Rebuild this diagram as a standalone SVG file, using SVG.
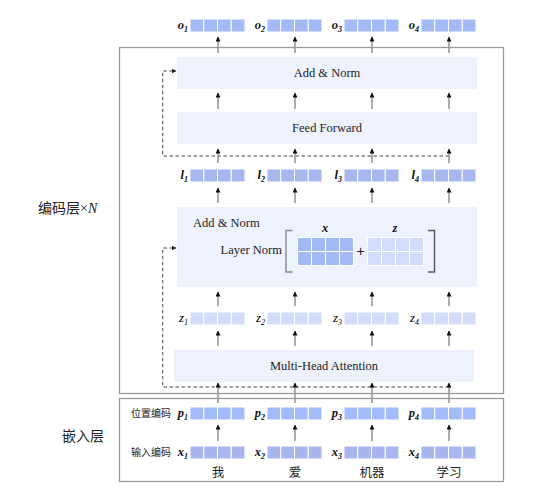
<svg xmlns="http://www.w3.org/2000/svg" width="556" height="496" viewBox="0 0 556 496">
<style>
.frame{fill:none;stroke:#9a9a9a;stroke-width:1.3}
.blk{fill:#eef2fd}
.t{font-family:"Liberation Serif",serif;font-size:12.5px;fill:#222}
.lab{font-family:"Liberation Serif",serif;font-size:12.5px;font-style:italic;fill:#111}
.zl{font-size:13px;fill:#000}
.b{font-weight:bold}
.sub{font-size:8px}
.cjk{font-family:"Noto Sans CJK SC",sans-serif;fill:#222}
.ar{stroke:#999;stroke-width:1.6;fill:none;marker-end:url(#ah)}
.dash{stroke:#444;stroke-width:1;stroke-dasharray:3.5,2.5;fill:none}
.c{stroke:#fff;stroke-width:1}
.o{fill:#a3baf7}.l{fill:#a7b6ee}.z{fill:#d3dcfa}.p{fill:#a3bbf8}.x{fill:#a8b5ee}
</style>
<defs>
<marker id="ah" markerUnits="userSpaceOnUse" markerWidth="6" markerHeight="6" refX="4.5" refY="2.5" orient="auto"><path d="M0,0 L5,2.5 L0,5 z" fill="#111"/></marker>
<marker id="dh" markerUnits="userSpaceOnUse" markerWidth="6" markerHeight="6" refX="4.5" refY="2.5" orient="auto"><path d="M0,0 L5,2.5 L0,5 z" fill="#222"/></marker>
<g id="vo" class="o"><rect class="c" x="0" y="0" width="13.75" height="13"/><rect class="c" x="13.75" y="0" width="13.75" height="13"/><rect class="c" x="27.5" y="0" width="13.75" height="13"/><rect class="c" x="41.25" y="0" width="13.75" height="13"/></g>
<g id="vl" class="l"><rect class="c" x="0" y="0" width="13.75" height="13"/><rect class="c" x="13.75" y="0" width="13.75" height="13"/><rect class="c" x="27.5" y="0" width="13.75" height="13"/><rect class="c" x="41.25" y="0" width="13.75" height="13"/></g>
<g id="vz" class="z"><rect class="c" x="0" y="0" width="13.75" height="13"/><rect class="c" x="13.75" y="0" width="13.75" height="13"/><rect class="c" x="27.5" y="0" width="13.75" height="13"/><rect class="c" x="41.25" y="0" width="13.75" height="13"/></g>
<g id="vp" class="p"><rect class="c" x="0" y="0" width="13.75" height="13"/><rect class="c" x="13.75" y="0" width="13.75" height="13"/><rect class="c" x="27.5" y="0" width="13.75" height="13"/><rect class="c" x="41.25" y="0" width="13.75" height="13"/></g>
<g id="vx" class="x"><rect class="c" x="0" y="0" width="13.75" height="13"/><rect class="c" x="13.75" y="0" width="13.75" height="13"/><rect class="c" x="27.5" y="0" width="13.75" height="13"/><rect class="c" x="41.25" y="0" width="13.75" height="13"/></g>
</defs>
<rect width="556" height="496" fill="#fff"/>

<g id="encoder-frame"><rect class="frame" x="119.5" y="47.5" width="384" height="346"/></g>
<g id="embed-frame"><rect class="frame" x="119.5" y="398.5" width="384" height="83"/></g>

<g id="label-encoder"><text class="cjk" x="38" y="213" font-size="14">编码层<tspan font-family="Liberation Serif,serif">×</tspan><tspan font-family="Liberation Serif,serif" font-style="italic">N</tspan></text></g>
<g id="label-embed"><text class="cjk" x="62" y="441" font-size="14">嵌入层</text></g>

<g id="add-norm-top"><rect class="blk" x="177" y="57" width="300" height="32"/><text class="t" x="327" y="77" text-anchor="middle">Add &amp; Norm</text></g>
<g id="feed-forward"><rect class="blk" x="177" y="112" width="300" height="32"/><text class="t" x="327" y="132" text-anchor="middle">Feed Forward</text></g>
<g id="add-norm-mid">
<rect class="blk" x="177" y="207" width="300" height="80"/>
<text class="t" x="193" y="227">Add &amp; Norm</text>
<text class="t" x="282" y="254" text-anchor="end">Layer Norm</text>
<path d="M292.5,230.5 H286 V272 H292.5" fill="none" stroke="#888" stroke-width="1.4"/>
<path d="M428,230.5 H434.5 V272 H428" fill="none" stroke="#555" stroke-width="1.4"/>
<text class="lab b" x="325" y="232" text-anchor="middle">x</text>
<text class="lab b" x="395" y="232" text-anchor="middle">z</text>
<g fill="#a3b9f6">
<rect class="c" x="297.5" y="237.5" width="14" height="14"/><rect class="c" x="311.5" y="237.5" width="14" height="14"/><rect class="c" x="325.5" y="237.5" width="14" height="14"/><rect class="c" x="339.5" y="237.5" width="14" height="14"/>
<rect class="c" x="297.5" y="251.5" width="14" height="14"/><rect class="c" x="311.5" y="251.5" width="14" height="14"/><rect class="c" x="325.5" y="251.5" width="14" height="14"/><rect class="c" x="339.5" y="251.5" width="14" height="14"/>
</g>
<text x="360.5" y="256" text-anchor="middle" font-family="Liberation Sans,sans-serif" font-size="14" fill="#222">+</text>
<g fill="#d3dcfa">
<rect class="c" x="367.5" y="237.5" width="14" height="14"/><rect class="c" x="381.5" y="237.5" width="14" height="14"/><rect class="c" x="395.5" y="237.5" width="14" height="14"/><rect class="c" x="409.5" y="237.5" width="14" height="14"/>
<rect class="c" x="367.5" y="251.5" width="14" height="14"/><rect class="c" x="381.5" y="251.5" width="14" height="14"/><rect class="c" x="395.5" y="251.5" width="14" height="14"/><rect class="c" x="409.5" y="251.5" width="14" height="14"/>
</g>
</g>
<g id="mha"><rect class="blk" x="174" y="350" width="300" height="32"/><text class="t" x="324" y="370" text-anchor="middle">Multi-Head Attention</text></g>

<g id="vec-o">
<use href="#vo" x="190" y="19"/><use href="#vo" x="267" y="19"/><use href="#vo" x="344" y="19"/><use href="#vo" x="421" y="19"/>
<text class="lab b" x="188" y="29" text-anchor="end">o<tspan class="sub" dy="2.5">1</tspan></text>
<text class="lab b" x="265" y="29" text-anchor="end">o<tspan class="sub" dy="2.5">2</tspan></text>
<text class="lab b" x="342" y="29" text-anchor="end">o<tspan class="sub" dy="2.5">3</tspan></text>
<text class="lab b" x="419" y="29" text-anchor="end">o<tspan class="sub" dy="2.5">4</tspan></text>
</g>
<g id="vec-l">
<use href="#vl" x="190" y="169"/><use href="#vl" x="267" y="169"/><use href="#vl" x="344" y="169"/><use href="#vl" x="421" y="169"/>
<text class="lab b" x="188" y="179" text-anchor="end">l<tspan class="sub" dy="2.5">1</tspan></text>
<text class="lab b" x="265" y="179" text-anchor="end">l<tspan class="sub" dy="2.5">2</tspan></text>
<text class="lab b" x="342" y="179" text-anchor="end">l<tspan class="sub" dy="2.5">3</tspan></text>
<text class="lab b" x="419" y="179" text-anchor="end">l<tspan class="sub" dy="2.5">4</tspan></text>
</g>
<g id="vec-z">
<use href="#vz" x="190" y="312"/><use href="#vz" x="267" y="312"/><use href="#vz" x="344" y="312"/><use href="#vz" x="421" y="312"/>
<text class="lab zl" x="188" y="322" text-anchor="end">z<tspan class="sub" dy="2.5">1</tspan></text>
<text class="lab zl" x="265" y="322" text-anchor="end">z<tspan class="sub" dy="2.5">2</tspan></text>
<text class="lab zl" x="342" y="322" text-anchor="end">z<tspan class="sub" dy="2.5">3</tspan></text>
<text class="lab zl" x="419" y="322" text-anchor="end">z<tspan class="sub" dy="2.5">4</tspan></text>
</g>
<g id="vec-p">
<use href="#vp" x="190" y="407"/><use href="#vp" x="267" y="407"/><use href="#vp" x="344" y="407"/><use href="#vp" x="421" y="407"/>
<text class="lab b" x="188" y="417" text-anchor="end">p<tspan class="sub" dy="2.5">1</tspan></text>
<text class="lab b" x="265" y="417" text-anchor="end">p<tspan class="sub" dy="2.5">2</tspan></text>
<text class="lab b" x="342" y="417" text-anchor="end">p<tspan class="sub" dy="2.5">3</tspan></text>
<text class="lab b" x="419" y="417" text-anchor="end">p<tspan class="sub" dy="2.5">4</tspan></text>
<text class="cjk" x="171" y="417" font-size="10" text-anchor="end">位置编码</text>
</g>
<g id="vec-x">
<use href="#vx" x="190" y="446"/><use href="#vx" x="267" y="446"/><use href="#vx" x="344" y="446"/><use href="#vx" x="421" y="446"/>
<text class="lab b" x="188" y="456" text-anchor="end">x<tspan class="sub" dy="2.5">1</tspan></text>
<text class="lab b" x="265" y="456" text-anchor="end">x<tspan class="sub" dy="2.5">2</tspan></text>
<text class="lab b" x="342" y="456" text-anchor="end">x<tspan class="sub" dy="2.5">3</tspan></text>
<text class="lab b" x="419" y="456" text-anchor="end">x<tspan class="sub" dy="2.5">4</tspan></text>
<text class="cjk" x="171" y="456" font-size="10" text-anchor="end">输入编码</text>
</g>
<g id="words" class="cjk" font-size="12.5" text-anchor="middle">
<text x="218" y="477">我</text><text x="295" y="477">爱</text><text x="372" y="477">机器</text><text x="449" y="477">学习</text>
</g>

<g id="connectors">
<path class="dash" d="M449,156 H162.7 V71 H176" marker-end="url(#dh)"/>
<path class="dash" d="M449,387 H162.7 V248 H176" marker-end="url(#dh)"/>
<g id="col1"><line class="ar" x1="218" y1="53" x2="218" y2="37"/><line class="ar" x1="218" y1="109" x2="218" y2="93"/><line class="ar" x1="218" y1="163" x2="218" y2="149"/><line class="ar" x1="218" y1="203" x2="218" y2="188"/><line class="ar" x1="218" y1="306" x2="218" y2="292"/><line class="ar" x1="218" y1="346" x2="218" y2="331"/><line class="ar" x1="218" y1="403" x2="218" y2="383"/><line class="ar" x1="218" y1="441" x2="218" y2="425"/></g>
<g id="col2"><line class="ar" x1="295" y1="53" x2="295" y2="37"/><line class="ar" x1="295" y1="109" x2="295" y2="93"/><line class="ar" x1="295" y1="163" x2="295" y2="149"/><line class="ar" x1="295" y1="203" x2="295" y2="188"/><line class="ar" x1="295" y1="306" x2="295" y2="292"/><line class="ar" x1="295" y1="346" x2="295" y2="331"/><line class="ar" x1="295" y1="403" x2="295" y2="383"/><line class="ar" x1="295" y1="441" x2="295" y2="425"/></g>
<g id="col3"><line class="ar" x1="372" y1="53" x2="372" y2="37"/><line class="ar" x1="372" y1="109" x2="372" y2="93"/><line class="ar" x1="372" y1="163" x2="372" y2="149"/><line class="ar" x1="372" y1="203" x2="372" y2="188"/><line class="ar" x1="372" y1="306" x2="372" y2="292"/><line class="ar" x1="372" y1="346" x2="372" y2="331"/><line class="ar" x1="372" y1="403" x2="372" y2="383"/><line class="ar" x1="372" y1="441" x2="372" y2="425"/></g>
<g id="col4"><line class="ar" x1="449" y1="53" x2="449" y2="37"/><line class="ar" x1="449" y1="109" x2="449" y2="93"/><line class="ar" x1="449" y1="163" x2="449" y2="149"/><line class="ar" x1="449" y1="203" x2="449" y2="188"/><line class="ar" x1="449" y1="306" x2="449" y2="292"/><line class="ar" x1="449" y1="346" x2="449" y2="331"/><line class="ar" x1="449" y1="403" x2="449" y2="383"/><line class="ar" x1="449" y1="441" x2="449" y2="425"/></g>
</g>
</svg>
